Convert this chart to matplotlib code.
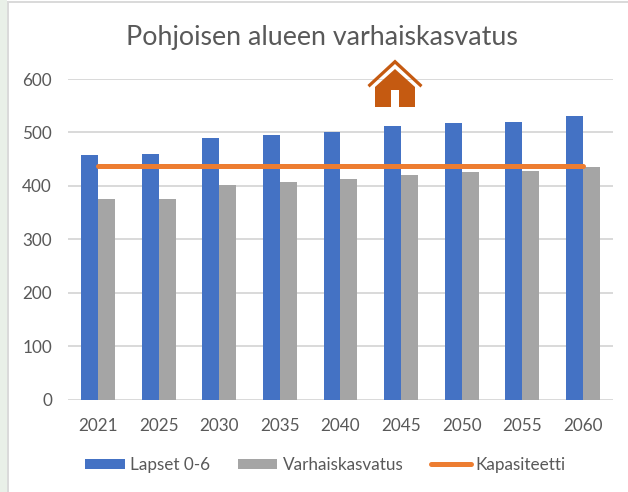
import numpy as np
import matplotlib
matplotlib.use("Agg")
import matplotlib.pyplot as plt
from matplotlib.patches import Polygon, Rectangle

years = ["2021", "2025", "2030", "2035", "2040", "2045", "2050", "2055", "2060"]
lapset = [458, 460, 490, 495, 500, 512, 518, 520, 531]
varhaiskasvatus = [376, 376, 402, 408, 412, 420, 425, 427, 436]
kapasiteetti = [438, 438, 438, 438, 438, 438, 438, 438, 438]
yticks = [0, 100, 200, 300, 400, 500, 600]

W, H = 628, 492
TEXT = "#595959"

plt.rcParams['font.family'] = ['Lato', 'DejaVu Sans']

fig = plt.figure(figsize=(W / 100, H / 100), dpi=100)
fig.patch.set_facecolor("white")
ax = fig.add_axes([68 / W, 1 - 399.5 / H, (613 - 68) / W, (399.5 - 79) / H])


def px(x, y):
    # picture pixels to figure fraction
    return x / W, 1 - y / H


# slide background and chart frame
fig.add_artist(Rectangle((0, 0), 7 / W, 1, transform=fig.transFigure, fc="#E9F0E8", ec="none"))
fig.add_artist(Rectangle((7 / W, 0), 2 / W, 1 - 2 / H, transform=fig.transFigure, fc="#DADADA", ec="none"))
fig.add_artist(Rectangle((7 / W, 1 - 3 / H), 1 - 7 / W, 2 / H, transform=fig.transFigure, fc="#DADADA", ec="none"))

x = np.arange(len(years))
w = 0.28
ax.bar(x - w / 2, lapset, w, color="#4472C4", label="Lapset 0-6", zorder=2)
ax.bar(x + w / 2, varhaiskasvatus, w, color="#A5A5A5", label="Varhaiskasvatus", zorder=2)
ax.plot(x, kapasiteetti, color="#ED7D31", lw=3.6, solid_capstyle="round", label="Kapasiteetti", zorder=3)

ax.set_xlim(-0.5, len(years) - 0.5)
ax.set_ylim(0, 600)
ax.set_xticks(x, years)
ax.set_yticks(yticks)
ax.tick_params(length=0, labelsize=12.3, labelcolor=TEXT)
ax.tick_params(axis="x", pad=13)
ax.tick_params(axis="y", pad=11.5)
ax.grid(axis="y", color="#D9D9D9", lw=1.4, zorder=0)
ax.set_axisbelow(True)
for s in ax.spines.values():
    s.set_visible(False)

fig.text(*px(321.5, 37), "Pohjoisen alueen varhaiskasvatus", fontsize=19.3, color=TEXT, ha="center", va="center")

# house icon above the title
house = "#C55A11"
fig.add_artist(Polygon([px(367.5, 85), px(395, 59.5), px(422.5, 85), px(420.5, 87.5), px(395, 64), px(369.5, 87.5)],
                       transform=fig.transFigure, fc=house, ec="none", zorder=5))
fig.add_artist(Polygon([px(375, 87), px(395, 69), px(415, 87), px(415, 107), px(399, 107), px(399, 90),
                        px(391, 90), px(391, 107), px(375, 107)],
                       transform=fig.transFigure, fc=house, ec="none", zorder=5))

# bars first, line last, as in the reference legend
handles, labels = ax.get_legend_handles_labels()
order = [labels.index(n) for n in ("Lapset 0-6", "Varhaiskasvatus", "Kapasiteetti")]
fig.legend([handles[i] for i in order], [labels[i] for i in order], ncol=3, frameon=False, loc="center",
           bbox_to_anchor=px(325.5, 465), fontsize=12.3, labelcolor=TEXT,
           handlelength=2.34, handleheight=0.6, handletextpad=0.3, columnspacing=1.6)

fig.savefig("out.png", dpi=100)
